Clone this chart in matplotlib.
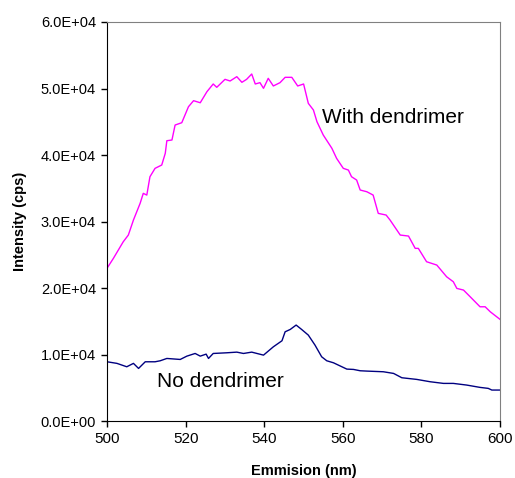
import matplotlib
matplotlib.use("Agg")
import matplotlib.pyplot as plt
from matplotlib.ticker import FuncFormatter

plt.rcParams['font.family'] = ['Liberation Sans', 'DejaVu Sans']

# With dendrimer
with_nm = [500.0, 501.6, 504.1, 505.4, 506.7, 508.4, 509.2, 510.1, 510.9, 512.2,
           513.9, 514.8, 515.2, 516.5, 517.3, 519.0, 520.7, 522.0, 523.7, 525.4,
           527.0, 527.9, 530.0, 531.3, 533.0, 534.3, 535.5, 536.8, 537.7, 538.9,
           539.8, 541.0, 542.3, 544.0, 545.3, 547.0, 548.5, 550.0, 551.2, 552.5,
           553.4, 555.0, 557.2, 558.4, 560.1, 561.4, 562.2, 563.5, 564.4, 566.1,
           567.7, 569.0, 571.0, 572.0, 574.6, 576.7, 578.4, 579.2, 581.3, 583.9,
           586.4, 588.1, 589.0, 590.7, 592.4, 594.9, 596.2, 597.5, 600.0]
with_cps = [23000, 24470, 26960, 27970, 30230, 32740, 34240, 33980, 36740, 38000,
            38500, 40260, 42150, 42260, 44510, 44860, 47260, 48170, 47860, 49520,
            50680, 50180, 51380, 51130, 51780, 50930, 51380, 52180, 50680, 50880,
            50030, 51530, 50380, 50880, 51680, 51680, 50380, 50680, 47770, 46770,
            45010, 43010, 41010, 39500, 38000, 37740, 36740, 36240, 34740, 34480,
            33980, 31230, 30980, 30230, 27970, 27820, 25970, 25970, 23960, 23460,
            21700, 20950, 19950, 19700, 18690, 17190, 17190, 16440, 15290]

# No dendrimer
no_nm = [500.0, 502.5, 505.0, 506.7, 508.0, 509.7, 512.2, 513.5, 515.2, 518.6,
         520.3, 522.4, 523.7, 525.2, 525.8, 527.0, 530.4, 533.0, 534.7, 536.8,
         539.8, 542.3, 544.5, 545.3, 546.6, 548.1, 549.5, 551.2, 552.9, 554.6,
         555.9, 557.6, 561.0, 562.7, 564.4, 566.1, 570.3, 572.9, 575.0, 578.8,
         582.2, 585.6, 588.1, 591.5, 594.9, 597.0, 597.9, 600.0]
no_cps = [8920, 8680, 8170, 8680, 7920, 8920, 8920, 9070, 9420, 9270,
          9770, 10170, 9770, 10070, 9420, 10170, 10270, 10370, 10170, 10370,
          9920, 11170, 12080, 13430, 13780, 14440, 13780, 12930, 11430, 9670,
          9070, 8770, 7820, 7770, 7570, 7520, 7420, 7170, 6520, 6270,
          5920, 5670, 5670, 5420, 5070, 4920, 4670, 4670]

x_ticks = [500, 520, 540, 560, 580, 600]
y_ticks = [0, 10000, 20000, 30000, 40000, 50000, 60000]

fig = plt.figure(figsize=(5.15, 4.78), dpi=100)
ax = fig.add_axes([0.208, 0.119, 0.763, 0.835])

ax.plot(with_nm, with_cps, color='#FF00FF', lw=1.0)
ax.plot(no_nm, no_cps, color='#000080', lw=1.0)

ax.set_xlim(500, 600)
ax.set_ylim(0, 60000)
ax.set_xticks(x_ticks)
ax.set_yticks(y_ticks)
ax.yaxis.set_major_formatter(FuncFormatter(lambda v, p: f"{v:.1E}"))
ax.tick_params(direction='out', length=4, width=1, pad=4)
ax.tick_params(axis='x', labelsize=11)
ax.tick_params(axis='y', labelsize=10.5)

for side in ['left', 'bottom']:
    ax.spines[side].set_color('black')
for side in ['top', 'right']:
    ax.spines[side].set_color('#808080')

ax.set_xlabel('Emmision (nm)', fontsize=10.5, fontweight='bold', labelpad=13)
ax.set_ylabel('Intensity (cps)', fontsize=10.5, fontweight='bold', labelpad=10)

ax.text(554.7, 45600, 'With dendrimer', fontsize=15, va='center')
ax.text(512.6, 5900, 'No dendrimer', fontsize=15, va='center')

fig.savefig('out.png', dpi=100)
